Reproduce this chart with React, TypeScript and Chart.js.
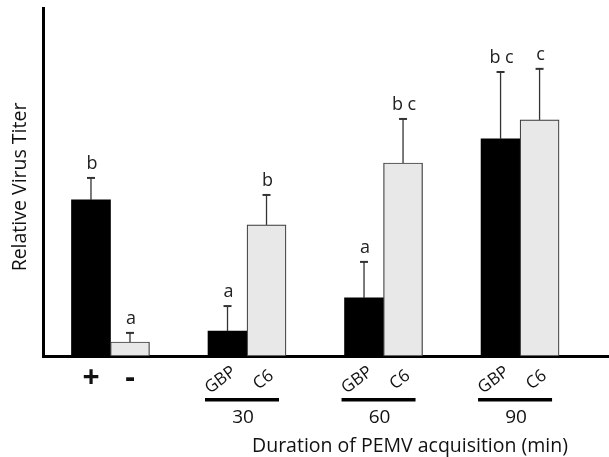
import React, { useEffect, useRef } from 'react';
import { Chart, registerables } from 'chart.js';

Chart.register(...registerables);

// ---- data ----
const barLabels = ['+', '-', 'GBP', 'C6', 'GBP', 'C6', 'GBP', 'C6'];
const barGroup = [0, 0, 1, 1, 2, 2, 3, 3];
const barMember = [0, 1, 0, 1, 0, 1, 0, 1];
const titerValues = [1.0, 0.09, 0.16, 0.84, 0.372, 1.237, 1.391, 1.513];
const titerErrors = [0.141, 0.058, 0.16, 0.192, 0.231, 0.282, 0.429, 0.327];
const significanceLetters = ['b', 'a', 'a', 'b', 'a', 'b c', 'b c', 'c'];
const durationLabels = ['30', '60', '90'];
const yAxisTitle = 'Relative Virus Titer';
const xAxisTitle = 'Duration of PEMV acquisition (min)';

// ---- layout / style ----
const GROUP_SPACING = 3.5;
const FONT = '"Open Sans", Lato, sans-serif';
const BLACK_FILL = '#000000';
const GRAY_FILL = '#e8e8e8';

const annotationPlugin = {
  id: 'annotations',
  afterDatasetsDraw(chart: any) {
    const ctx = chart.ctx;
    const y = chart.scales.y;
    const meta = chart.getDatasetMeta(0);
    ctx.save();
    meta.data.forEach((bar: any, i: number) => {
      const base = y.getPixelForValue(titerValues[i]);
      const top = y.getPixelForValue(titerValues[i] + titerErrors[i]);
      ctx.strokeStyle = '#333333';
      ctx.lineWidth = 1.3;
      ctx.beginPath();
      ctx.moveTo(bar.x, base);
      ctx.lineTo(bar.x, top);
      ctx.stroke();
      ctx.lineWidth = 2;
      ctx.beginPath();
      ctx.moveTo(bar.x - 4, top);
      ctx.lineTo(bar.x + 4, top);
      ctx.stroke();
      ctx.fillStyle = '#222222';
      ctx.font = `18px ${FONT}`;
      ctx.textAlign = 'center';
      ctx.textBaseline = 'alphabetic';
      ctx.fillText(significanceLetters[i], bar.x + 1, top - 9);
    });
    ctx.restore();
  },
  afterDraw(chart: any) {
    const ctx = chart.ctx;
    const area = chart.chartArea;
    const meta = chart.getDatasetMeta(0);
    const axisY = area.bottom;
    ctx.save();
    ctx.fillStyle = '#111111';
    ctx.textAlign = 'center';
    ctx.textBaseline = 'middle';
    // control labels (+ / -)
    meta.data.forEach((bar: any, i: number) => {
      if (barGroup[i] === 0) {
        ctx.font = `bold 30px ${FONT}`;
        ctx.fillText(barLabels[i], bar.x, axisY + 22);
      } else {
        ctx.save();
        const dx = barMember[i] === 0 ? -7 : -3;
        ctx.translate(bar.x + dx, axisY + 24);
        ctx.rotate(-0.64);
        ctx.font = `17px ${FONT}`;
        ctx.fillText(barLabels[i], 0, 0);
        ctx.restore();
      }
    });
    // group underlines and duration labels
    durationLabels.forEach((lab, g) => {
      const idx = barGroup
        .map((gr, k) => (gr === g + 1 ? k : -1))
        .filter((k) => k >= 0);
      const xs = idx.map((k) => meta.data[k].x);
      const center = (Math.min(...xs) + Math.max(...xs)) / 2 - 5;
      ctx.fillStyle = '#000000';
      ctx.fillRect(center - 37, axisY + 42, 74, 3.5);
      ctx.fillStyle = '#111111';
      ctx.font = `19px ${FONT}`;
      ctx.fillText(lab, center + 1, axisY + 62);
    });
    // x title
    ctx.font = `19.5px ${FONT}`;
    ctx.fillText(xAxisTitle, area.left + 367, axisY + 90);
    // y title
    ctx.save();
    ctx.translate(20, (area.top + area.bottom) / 2 + 5);
    ctx.rotate(-Math.PI / 2);
    ctx.font = `19.5px ${FONT}`;
    ctx.fillText(yAxisTitle, 0, 0);
    ctx.restore();
    ctx.restore();
  },
};

export default function App() {
  const canvasRef = useRef<HTMLCanvasElement | null>(null);

  useEffect(() => {
    if (!canvasRef.current) return;
    const points = titerValues.map((v, i) => ({
      x: barGroup[i] * GROUP_SPACING + barMember[i],
      y: v,
    }));
    const chart = new Chart(canvasRef.current, {
      type: 'bar',
      data: {
        datasets: [
          {
            data: points as any,
            backgroundColor: barMember.map((m) => (m === 0 ? BLACK_FILL : GRAY_FILL)),
            borderColor: barMember.map((m) => (m === 0 ? BLACK_FILL : '#3a3a3a')),
            borderWidth: barMember.map((m) => (m === 0 ? 0 : 1.2)),
            borderSkipped: false,
            barPercentage: 1,
            categoryPercentage: 1,
          },
        ],
      },
      options: {
        animation: false,
        responsive: false,
        maintainAspectRatio: false,
        layout: { padding: { top: 8, left: 0, right: 0, bottom: 0 } },
        plugins: {
          legend: { display: false },
          tooltip: { enabled: false },
          title: { display: false },
        },
        scales: {
          x: {
            type: 'linear',
            min: -1.23,
            max: 13.28,
            offset: false,
            grid: { display: false },
            ticks: { display: false },
            border: { display: true, color: '#000000', width: 3 } as any,
            z: 1,
            afterFit: (scale: any) => {
              scale.height = 101;
            },
          } as any,
          y: {
            min: 0,
            max: 2.23,
            grid: { display: false },
            ticks: { display: false },
            border: { display: true, color: '#000000', width: 3 } as any,
            z: 1,
            afterFit: (scale: any) => {
              scale.width = 43;
            },
          } as any,
        },
      },
      plugins: [annotationPlugin],
    });
    return () => chart.destroy();
  }, []);

  return (
    <div style={{ position: 'absolute', left: 0, top: 0, width: 609, height: 457, background: '#fff' }}>
      <canvas ref={canvasRef} width={609} height={457} style={{ width: 609, height: 457 }} />
    </div>
  );
}
